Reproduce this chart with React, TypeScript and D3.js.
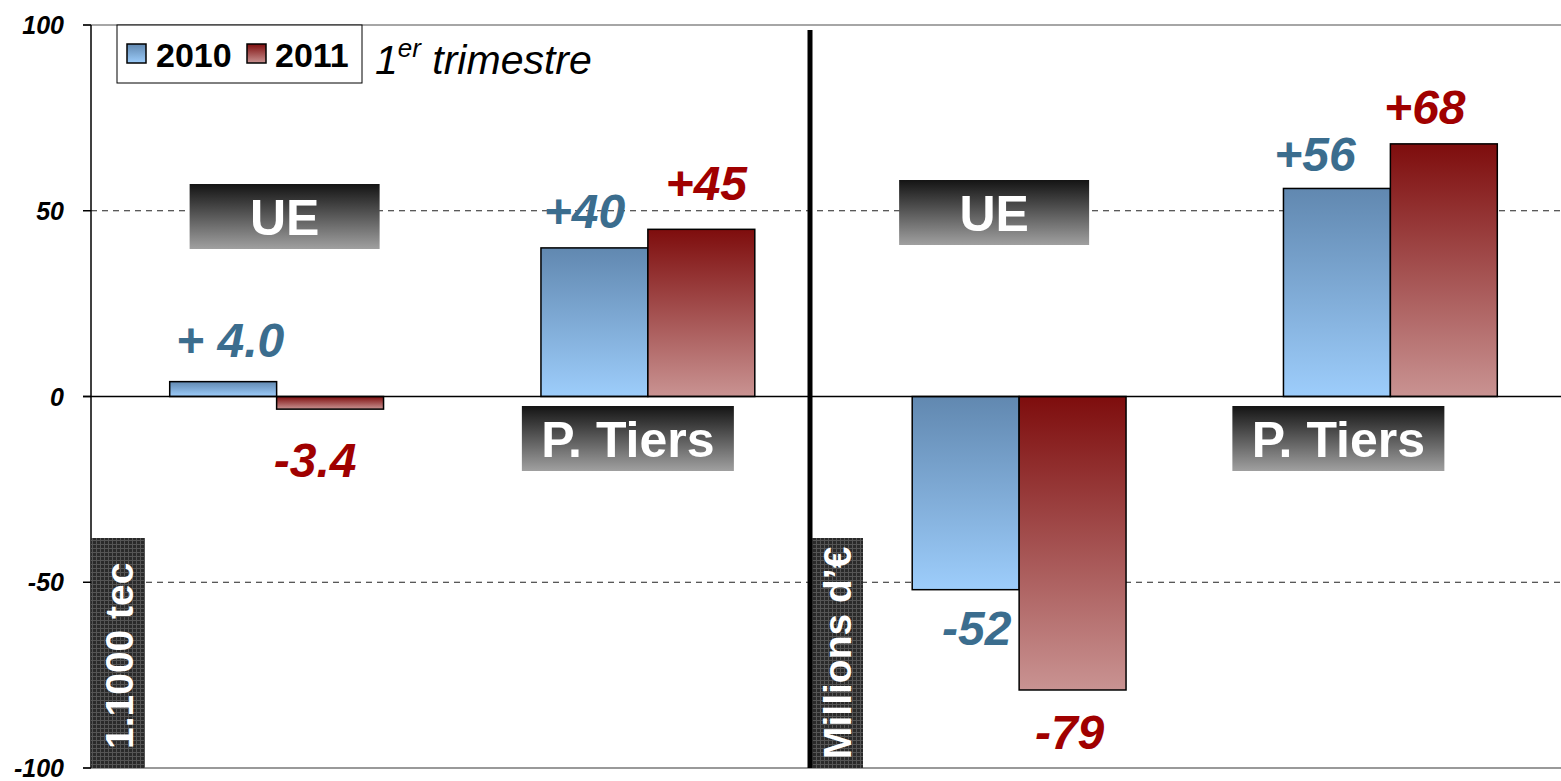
import React from 'react';
import * as d3 from 'd3';

const groups = ['UE_t', 'PT_t', 'UE_v', 'PT_v'];
const groupNames = ['UE', 'P. Tiers', 'UE', 'P. Tiers'];
const years = ['2010', '2011'];
const values2010 = [4.0, 40, -52, 56];
const values2011 = [-3.4, 45, -79, 68];
const labels2010 = ['+ 4.0', '+40', '-52', '+56'];
const labels2011 = ['-3.4', '+45', '-79', '+68'];
const yTicks = [100, 50, 0, -50, -100];
const unitLabels = ['1.1000 tec', 'Millions d\u2019\u20ac'];

const W = 1561;
const H = 781;
const FONT = 'Liberation Sans, Arial, sans-serif';
const BLUE_TXT = '#3b6d8e';
const RED_TXT = '#a00000';

// label offsets (dx from bar centre, dy from bar end), per series
const labelOff2010 = [[7, -25], [-10, -20], [11, 55], [-22, -17]];
const labelOff2011 = [[-15, 68], [5, -29], [-3, 59], [-19, -20]];
// group box offsets from band centre
const boxOff = [[8, 184], [-20, 406], [-25, 180], [-52, 406]];

export default function App() {
  const y = d3.scaleLinear().domain([-100, 100]).range([768, 25]);
  const x0 = d3.scaleBand().domain(groups).range([91, 1576]).paddingInner(0.424).paddingOuter(0.212);
  const x1 = d3.scaleBand().domain(years).range([0, x0.bandwidth()]);
  const series = [
    { year: '2010', values: values2010, labels: labels2010, off: labelOff2010, grad: 'gBlue', color: BLUE_TXT },
    { year: '2011', values: values2011, labels: labels2011, off: labelOff2011, grad: 'gRed', color: RED_TXT },
  ];
  const dividerX = 810;

  return (
    <svg width={W} height={H} style={{ position: 'absolute', left: 0, top: 0, background: '#fff' }}>
      <defs>
        <linearGradient id="gBlue" x1="0" y1="0" x2="0" y2="1">
          <stop offset="0" stopColor="#6188b0" />
          <stop offset="1" stopColor="#9dcdfb" />
        </linearGradient>
        <linearGradient id="gRed" x1="0" y1="0" x2="0" y2="1">
          <stop offset="0" stopColor="#7e0d0d" />
          <stop offset="1" stopColor="#c99392" />
        </linearGradient>
        <linearGradient id="gBox" x1="0" y1="0" x2="0" y2="1">
          <stop offset="0" stopColor="#141414" />
          <stop offset="1" stopColor="#a0a0a0" />
        </linearGradient>
        <pattern id="hatch" width="4" height="4" patternUnits="userSpaceOnUse">
          <rect width="4" height="4" fill="#2a2a2a" />
          <path d="M0 0.5 H4 M0.5 0 V4" stroke="#555" strokeWidth="1" />
        </pattern>
      </defs>

      {/* frame lines */}
      <line x1={83} x2={W} y1={y(100)} y2={y(100)} stroke="#888" strokeWidth={1.5} />
      <line x1={83} x2={W} y1={y(-100)} y2={y(-100)} stroke="#999" strokeWidth={2} />
      {[50, -50].map(t => (
        <line key={t} x1={91} x2={W} y1={y(t)} y2={y(t)} stroke="#222" strokeWidth={1} strokeDasharray="6,5" />
      ))}

      {/* y axis */}
      <line x1={91} x2={91} y1={y(100)} y2={y(-100)} stroke="#000" strokeWidth={1.5} />
      {yTicks.map(t => (
        <g key={t}>
          <line x1={83} x2={91} y1={y(t)} y2={y(t)} stroke="#000" strokeWidth={1.5} />
          <text x={64} y={y(t) + 9} textAnchor="end" fontFamily={FONT} fontSize={25} fontWeight="bold" fontStyle="italic">{t}</text>
        </g>
      ))}

      {/* unit labels */}
      {[91, dividerX + 2].map((bx, k) => (
        <g key={k}>
          <rect x={bx} y={538} width={k === 0 ? 54 : 51} height={230} fill="url(#hatch)" />
          <text transform={`translate(${bx + (k === 0 ? 42 : 39)},${k === 0 ? 749 : 759}) rotate(-90)`} fontFamily={FONT}
            fontSize={k === 0 ? 39 : 39} fontWeight="bold" fill="#fff">{unitLabels[k]}</text>
        </g>
      ))}

      {/* bars */}
      {series.map((s, si) => s.values.map((v, i) => (
        <rect key={`${si}-${i}`} x={(x0(groups[i]) as number) + (x1(s.year) as number)} width={x1.bandwidth()}
          y={y(Math.max(0, v))} height={Math.abs(y(v) - y(0))} fill={`url(#${s.grad})`} stroke="#000" strokeWidth={1.5} />
      )))}

      {/* zero line */}
      <line x1={83} x2={W} y1={y(0)} y2={y(0)} stroke="#000" strokeWidth={1.5} />

      {/* divider */}
      <line x1={dividerX} x2={dividerX} y1={30} y2={y(-100)} stroke="#000" strokeWidth={5} />

      {/* value labels */}
      {series.map((s, si) => s.values.map((v, i) => {
        const bx = (x0(groups[i]) as number) + (x1(s.year) as number) + x1.bandwidth() / 2;
        return (
          <text key={`l${si}-${i}`} x={bx + s.off[i][0]} y={y(v) + s.off[i][1]} textAnchor="middle" fontFamily={FONT}
            fontSize={48} fontWeight="bold" fontStyle="italic" fill={s.color}>{s.labels[i]}</text>
        );
      }))}

      {/* group boxes */}
      {groups.map((g, i) => {
        const cx = (x0(g) as number) + x0.bandwidth() / 2 + boxOff[i][0];
        const isUE = i % 2 === 0;
        const bw = isUE ? 190 : 212;
        const by = boxOff[i][1];
        return (
          <g key={g}>
            <rect x={cx - bw / 2} y={by} width={bw} height={65} fill="url(#gBox)" />
            <text x={cx} y={by + 51} textAnchor="middle" fontFamily={FONT} fontSize={50}
              fontWeight="bold" fill="#fff">{groupNames[i]}</text>
          </g>
        );
      })}

      {/* legend */}
      <rect x={117} y={25} width={245} height={58} fill="#fff" stroke="#000" strokeWidth={1} />
      <rect x={127} y={44} width={19} height={19} fill="url(#gBlue)" stroke="#000" strokeWidth={1.5} />
      <text x={156} y={67} fontFamily={FONT} fontSize={34} fontWeight="bold">{years[0]}</text>
      <rect x={247} y={44} width={19} height={19} fill="url(#gRed)" stroke="#000" strokeWidth={1.5} />
      <text x={275} y={67} fontFamily={FONT} fontSize={34} fontWeight="bold">{years[1]}</text>
      <text x={375} y={74} fontFamily={FONT} fontSize={41} fontStyle="italic">
        1<tspan fontSize={26} dy={-17}>er</tspan><tspan dy={17}> trimestre</tspan>
      </text>
    </svg>
  );
}
